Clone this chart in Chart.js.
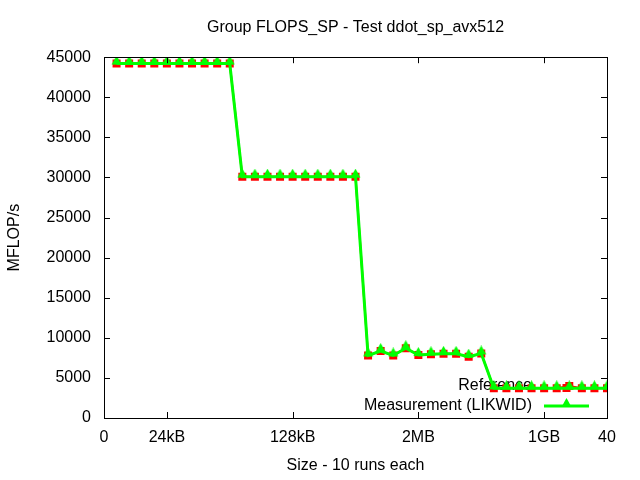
<!DOCTYPE html>
<html>
<head>
<meta charset="utf-8">
<script src="https://cdn.jsdelivr.net/npm/chart.js@4"></script>
<style>
  body { margin: 0; background: #fff; }
  #c { display: block; }
</style>
</head>
<body>
<canvas id="c" width="640" height="480"></canvas>
<script>
// valeurs
const sizes = [1,2,3,4,5,6,7,8,9,10,11,12,13,14,15,16,17,18,19,20,21,22,23,24,25,26,27,28,29,30,31,32,33,34,35,36,37,38,39,40];
const reference = [44200,44200,44200,44200,44200,44200,44200,44200,44200,44200,
	30100,30100,30100,30100,30100,30100,30100,30100,30100,30100,
	7800,8350,7800,8700,7850,7950,8000,8000,7650,8050,
	3700,3700,3700,3700,3700,3700,4000,3700,3700,3700];
const measurement = [44200,44200,44200,44200,44200,44200,44200,44200,44200,44200,
	30100,30100,30100,30100,30100,30100,30100,30100,30100,30100,
	7800,8350,7800,8700,7850,7950,8000,8000,7650,8050,
	3700,3700,3700,3700,3700,3700,3700,3700,3700,3700];
const xTickValues = [0, 5, 15, 25, 35, 40];
const xTickLabels = ['0', '24kB', '128kB', '2MB', '1GB', '40'];

const FONT = "'Liberation Sans', Arial, sans-serif";

function pts(ys){ return sizes.map((x, i) => ({ x: x, y: ys[i] })); }

// triangle gnuplot : un peu au-dessus du point
function makeTriangle(){
	const cv = document.createElement('canvas');
	cv.width = 11; cv.height = 16;
	const c = cv.getContext('2d');
	c.fillStyle = '#00ff00';
	c.beginPath();
	c.moveTo(5.5, 0); c.lineTo(10.5, 9); c.lineTo(0.5, 9); c.closePath();
	c.fill();
	return cv;
}
const tri = makeTriangle();

// cadre + graduations vers l'intérieur (style gnuplot)
const frame = {
	id: 'frame',
	afterDatasetsDraw(chart){
		const {ctx, chartArea: a, scales} = chart;
		const t = 6;
		ctx.save();
		ctx.strokeStyle = '#000';
		ctx.lineWidth = 1;
		ctx.beginPath();
		for (const v of xTickValues){
			const px = Math.round(scales.x.getPixelForValue(v)) + 0.5;
			ctx.moveTo(px, a.bottom); ctx.lineTo(px, a.bottom - t);
			ctx.moveTo(px, a.top); ctx.lineTo(px, a.top + t);
		}
		for (const tk of scales.y.ticks){
			const py = Math.round(scales.y.getPixelForValue(tk.value)) + 0.5;
			ctx.moveTo(a.left, py); ctx.lineTo(a.left + t, py);
			ctx.moveTo(a.right, py); ctx.lineTo(a.right - t, py);
		}
		ctx.stroke();
		ctx.strokeRect(Math.round(a.left) + 0.5, Math.round(a.top) + 0.5, Math.round(a.right - a.left), Math.round(a.bottom - a.top));
		ctx.restore();
	}
};

// légende dessinée avant les courbes, comme la clé gnuplot
const keyBox = {
	id: 'keyBox',
	beforeDatasetsDraw(chart){
		const {ctx, chartArea: a} = chart;
		const rows = [
			{ label: 'Reference', color: '#ff0000', y: a.bottom - 32, ly: a.bottom - 30, w: 2 },
			{ label: 'Measurement (LIKWID)', color: '#00ff00', y: a.bottom - 12, ly: a.bottom - 12, w: 3 }
		];
		const x1 = a.right - 63, x2 = a.right - 18;
		ctx.save();
		ctx.font = '16px ' + FONT;
		ctx.textAlign = 'right';
		ctx.textBaseline = 'middle';
		rows.forEach((r, i) => {
			ctx.fillStyle = '#000';
			ctx.fillText(r.label, a.right - 75, r.y);
			ctx.strokeStyle = r.color;
			ctx.lineWidth = r.w;
			ctx.beginPath(); ctx.moveTo(x1, r.ly); ctx.lineTo(x2, r.ly); ctx.stroke();
			const cx = (x1 + x2) / 2;
			if (i === 0) {
				ctx.fillStyle = r.color;
				ctx.fillRect(cx - 4, r.ly - 4, 8, 8);
			} else {
				ctx.drawImage(tri, cx - tri.width / 2, r.ly - tri.height / 2);
			}
		});
		ctx.restore();
	}
};

new Chart(document.getElementById('c'), {
	type: 'line',
	data: {
		datasets: [
			{ label: 'Reference', data: pts(reference), borderColor: '#ff0000', backgroundColor: '#ff0000',
			  borderWidth: 2, pointStyle: 'rect', pointRadius: 5.66, pointBorderWidth: 0, order: 2, tension: 0 },
			{ label: 'Measurement (LIKWID)', data: pts(measurement), borderColor: '#00ff00', backgroundColor: '#00ff00',
			  borderWidth: 3, pointStyle: tri, pointRadius: 5, pointBorderWidth: 0, order: 1, tension: 0 }
		]
	},
	options: {
		responsive: false,
		animation: false,
		layout: { padding: { left: 0, right: 33, top: 0, bottom: 0 } },
		plugins: {
			legend: { display: false },
			tooltip: { enabled: false },
			title: {
				display: true,
				fullSize: false,
				text: 'Group FLOPS_SP - Test ddot_sp_avx512',
				color: '#000',
				font: { family: FONT, size: 16, weight: 'normal' },
				padding: { top: 18, bottom: 20 }
			}
		},
		scales: {
			x: {
				type: 'linear', min: 0, max: 40,
				grid: { display: false, drawTicks: false },
				border: { display: false },
				afterBuildTicks: (s) => { s.ticks = xTickValues.map(v => ({ value: v })); },
				afterFit: (s) => { s.height = 62; },
				ticks: {
					color: '#000', padding: 10, maxRotation: 0, autoSkip: false,
					font: { family: FONT, size: 16 },
					callback: (v, i) => xTickLabels[i]
				},
				title: { display: true, text: 'Size - 10 runs each', color: '#000',
					font: { family: FONT, size: 16 }, padding: { top: 5, bottom: 5 } }
			},
			y: {
				min: 0, max: 45000,
				grid: { display: false, drawTicks: false },
				border: { display: false },
				afterFit: (s) => { s.width = 104; },
				ticks: {
					stepSize: 5000, color: '#000', padding: 13,
					font: { family: FONT, size: 16 },
					callback: (v) => String(v)
				},
				title: { display: true, text: 'MFLOP/s', color: '#000',
					font: { family: FONT, size: 16 }, padding: { top: 5, bottom: 0 } }
			}
		}
	},
	plugins: [keyBox, frame]
});
</script>
</body>
</html>
